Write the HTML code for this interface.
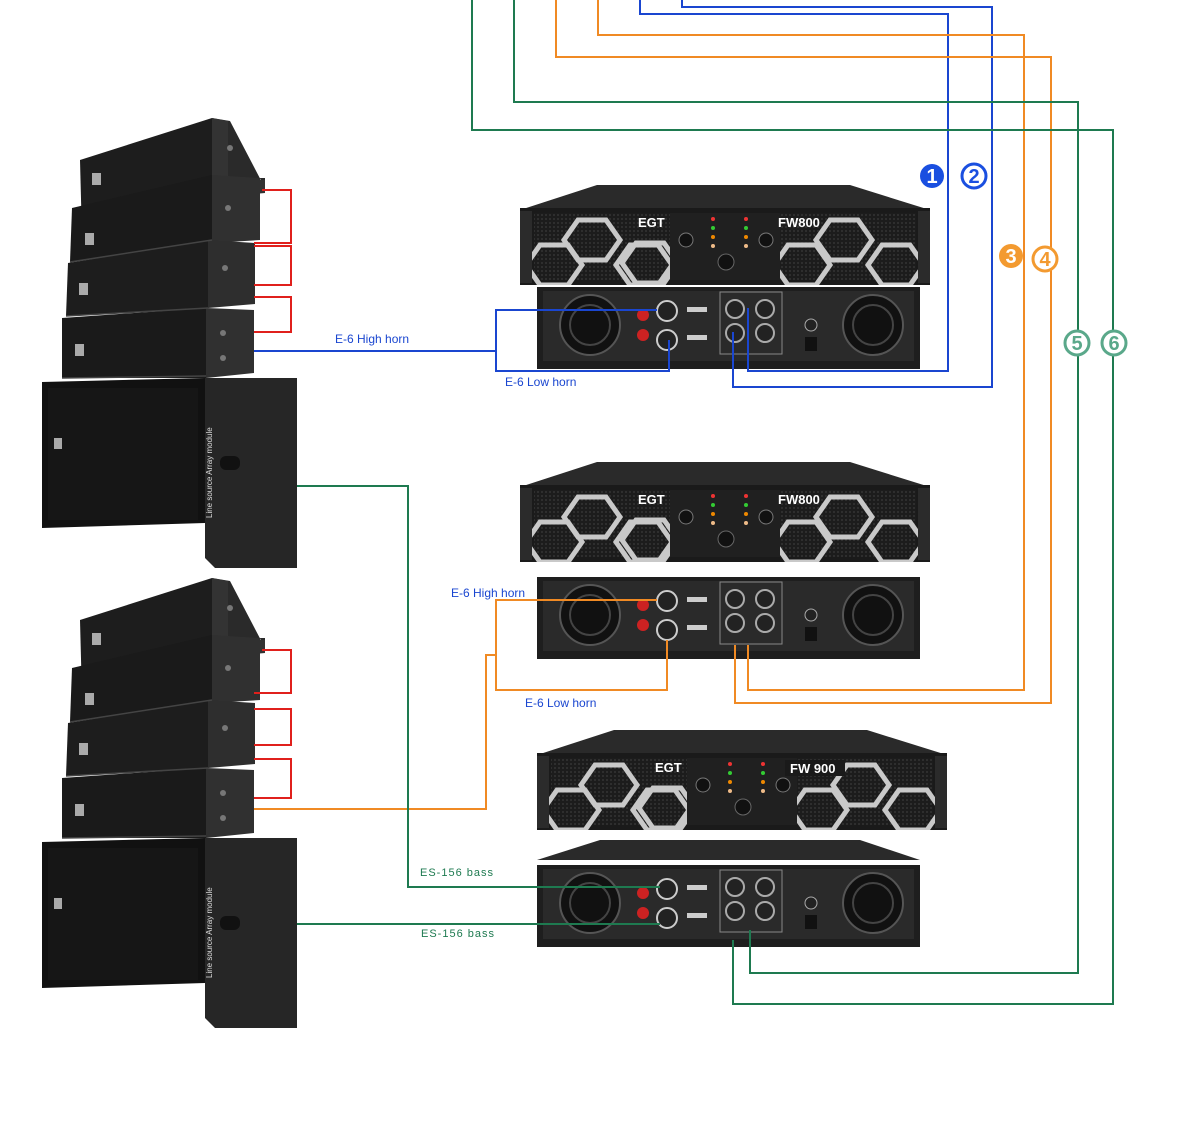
<!DOCTYPE html>
<html><head><meta charset="utf-8"><style>
html,body{margin:0;padding:0;background:#fff;}
svg{display:block;font-family:"Liberation Sans",sans-serif;}
</style></head><body>
<svg width="1200" height="1128" viewBox="0 0 1200 1128" xmlns="http://www.w3.org/2000/svg">
<defs>
<pattern id="mesh" width="4" height="4" patternUnits="userSpaceOnUse"><rect width="4" height="4" fill="#1c1c1c"/><circle cx="2" cy="2" r="0.9" fill="#3a3a3a"/></pattern>
<symbol id="front" viewBox="0 0 410 100" width="410" height="100">
  <polygon points="77,0 330,0 410,25 0,25" fill="#2a2a2a"/>
  <rect x="0" y="23" width="410" height="77" fill="#1a1a1a"/>
  <rect x="14" y="28" width="382" height="67" fill="url(#mesh)"/>
  <g fill="none" stroke="#c9c9c9" stroke-width="5">
    <polygon points="58,35 86,35 100,55 86,75 58,75 44,55"/>
    <polygon points="110,60 138,60 152,80 138,100 110,100 96,80"/>
    <polygon points="58,78 86,78 100,98 86,118 58,118 44,98" transform="translate(58,-20)"/>
    <polygon points="268,60 296,60 310,80 296,100 268,100 254,80"/>
    <polygon points="310,35 338,35 352,55 338,75 310,75 296,55"/>
    <polygon points="362,60 390,60 404,80 390,100 362,100 348,80"/>
    <polygon points="20,60 48,60 62,80 48,100 20,100 6,80"/>
  </g>
  <rect x="150" y="28" width="110" height="67" fill="#202020"/>
  <text x="118" y="42" fill="#fff" font-size="13" font-weight="bold">EGT</text>
  <text x="258" y="42" fill="#fff" font-size="13" font-weight="bold">FW800</text>
  <circle cx="166" cy="55" r="7" fill="#111" stroke="#777"/>
  <circle cx="246" cy="55" r="7" fill="#111" stroke="#777"/>
  <circle cx="193" cy="34" r="2" fill="#e33"/><circle cx="226" cy="34" r="2" fill="#e33"/>
  <circle cx="193" cy="43" r="2" fill="#3c3"/><circle cx="226" cy="43" r="2" fill="#3c3"/>
  <circle cx="193" cy="52" r="2" fill="#e80"/><circle cx="226" cy="52" r="2" fill="#e80"/>
  <circle cx="193" cy="61" r="2" fill="#eb8"/><circle cx="226" cy="61" r="2" fill="#eb8"/>
  <circle cx="206" cy="77" r="8" fill="#111" stroke="#666"/>
  <rect x="0" y="26" width="12" height="72" fill="#2b2b2b"/><rect x="398" y="26" width="12" height="72" fill="#2b2b2b"/>
</symbol>
<symbol id="back" viewBox="0 0 383 82" width="383" height="82">
  <rect x="0" y="0" width="383" height="82" fill="#1e1e1e"/>
  <rect x="6" y="4" width="371" height="70" fill="#2a2a2a"/>
  <circle cx="53" cy="38" r="30" fill="#111" stroke="#555" stroke-width="2"/>
  <circle cx="53" cy="38" r="20" fill="none" stroke="#444" stroke-width="2"/>
  <circle cx="336" cy="38" r="30" fill="#111" stroke="#555" stroke-width="2"/>
  <circle cx="336" cy="38" r="20" fill="none" stroke="#444" stroke-width="2"/>
  <circle cx="106" cy="28" r="6" fill="#c22"/><circle cx="106" cy="48" r="6" fill="#c22"/>
  <circle cx="130" cy="24" r="10" fill="#222" stroke="#ccc" stroke-width="2"/>
  <circle cx="130" cy="53" r="10" fill="#222" stroke="#ccc" stroke-width="2"/>
  <rect x="183" y="5" width="62" height="62" fill="none" stroke="#888"/>
  <circle cx="198" cy="22" r="9" fill="#222" stroke="#aaa" stroke-width="2"/>
  <circle cx="198" cy="46" r="9" fill="#222" stroke="#aaa" stroke-width="2"/>
  <circle cx="228" cy="22" r="9" fill="#222" stroke="#aaa" stroke-width="2"/>
  <circle cx="228" cy="46" r="9" fill="#222" stroke="#aaa" stroke-width="2"/>
  <circle cx="274" cy="38" r="6" fill="#222" stroke="#aaa"/>
  <rect x="268" y="50" width="12" height="14" fill="#111"/>
  <rect x="150" y="20" width="20" height="5" fill="#ccc"/><rect x="150" y="48" width="20" height="5" fill="#ccc"/>
</symbol>
<symbol id="arr" viewBox="0 0 260 450" width="260" height="450">
  <!-- box1 -->
  <polygon points="40,42 172,0 178,120 42,120" fill="#1d1d1d"/>
  <polygon points="172,0 190,3 225,70 225,60 175,60" fill="#2a2a2a"/>
  <polygon points="172,0 188,3 188,60 225,62 225,75 172,80" fill="#333"/>
  <!-- box2 -->
  <polygon points="32,90 172,57 172,122 30,144" fill="#1a1a1a"/>
  <polygon points="172,57 220,60 220,122 172,125" fill="#303030"/>
  <!-- box3 -->
  <polygon points="28,145 168,122 168,190 26,198" fill="#1d1d1d"/>
  <polygon points="168,122 215,125 215,186 168,190" fill="#2e2e2e"/>
  <!-- box4 -->
  <polygon points="22,200 166,190 166,260 22,260" fill="#1a1a1a"/>
  <polygon points="166,190 214,192 214,255 166,260" fill="#303030"/>
  <g stroke="#444" stroke-width="1.5" fill="none">
    <polyline points="30,144 172,122"/><polyline points="26,198 168,190"/><polyline points="22,260 166,258"/>
  </g>
  <g fill="#777"><circle cx="190" cy="30" r="3"/><circle cx="188" cy="90" r="3"/><circle cx="185" cy="150" r="3"/><circle cx="183" cy="215" r="3"/><circle cx="183" cy="240" r="3"/></g>
  <rect x="52" y="55" width="9" height="12" fill="#aaa"/><rect x="45" y="115" width="9" height="12" fill="#aaa"/>
  <rect x="39" y="165" width="9" height="12" fill="#aaa"/><rect x="35" y="226" width="9" height="12" fill="#aaa"/>
  <polygon points="2,264 165,260 165,405 2,410" fill="#111"/>
  <polygon points="165,260 257,260 257,450 175,450 165,440" fill="#262626"/>
  <rect x="8" y="270" width="150" height="132" fill="#161616"/>
  <rect x="14" y="320" width="8" height="11" fill="#aaa"/>
  <rect x="180" y="338" width="20" height="14" rx="6" fill="#111"/>
  <text transform="translate(172,400) rotate(-90)" fill="#ddd" font-size="8">Line source Array module</text>
</symbol>
</defs>

<use href="#arr" x="40" y="118"/>
<use href="#arr" x="40" y="578"/>

<use href="#front" x="520" y="185"/>
<use href="#back" x="537" y="287"/>
<use href="#front" x="520" y="462"/>
<use href="#back" x="537" y="577"/>
<use href="#front" x="537" y="730"/>
<polygon points="600,840 860,840 920,860 537,860" fill="#2a2a2a"/>
<use href="#back" x="537" y="865"/>
<rect x="785" y="760" width="60" height="16" fill="#1a1a1a"/>
<text x="790" y="773" fill="#fff" font-size="13" font-weight="bold">FW 900</text>

<g fill="none" stroke-width="2">
<g stroke="#e0201c">
<polyline points="262,190 291,190 291,243 254,243"/>
<polyline points="254,246 291,246 291,285 254,285"/>
<polyline points="254,297 291,297 291,332 254,332"/>
<polyline points="262,650 291,650 291,693 254,693"/>
<polyline points="254,709 291,709 291,745 254,745"/>
<polyline points="254,759 291,759 291,798 254,798"/>
</g>
<g stroke="#1a46d0">
<polyline points="254,351 496,351"/>
<polyline points="657,310 496,310 496,371 669,371 669,340"/>
<polyline points="748,308 748,371 948,371 948,14 640,14 640,0"/>
<polyline points="733,332 733,387 992,387 992,7 682,7 682,0"/>
</g>
<g stroke="#f08a24">
<polyline points="254,809 486,809 486,655 496,655"/>
<polyline points="657,600 496,600 496,690 667,690 667,640"/>
<polyline points="748,645 748,690 1024,690 1024,35 598,35 598,0"/>
<polyline points="735,645 735,703 1051,703 1051,57 556,57 556,0"/>
</g>
<g stroke="#1e7a50">
<polyline points="297,486 408,486 408,887 660,887"/>
<polyline points="297,924 660,924"/>
<polyline points="750,930 750,973 1078,973 1078,102 514,102 514,0"/>
<polyline points="733,940 733,1004 1113,1004 1113,130 472,130 472,0"/>
</g>
</g>

<g font-size="20" font-weight="bold" text-anchor="middle" fill="#fff">
<circle cx="932" cy="176" r="12" fill="#1a4fe0"/><text x="932" y="183">1</text>
<circle cx="974" cy="176" r="12" fill="#fff" stroke="#1a4fe0" stroke-width="3"/><text x="974" y="183" fill="#1a4fe0">2</text>
<circle cx="1011" cy="256" r="12" fill="#f39a30"/><text x="1011" y="263">3</text>
<circle cx="1045" cy="259" r="12" fill="#fff" stroke="#f39a30" stroke-width="3"/><text x="1045" y="266" fill="#f39a30">4</text>
<circle cx="1077" cy="343" r="12" fill="#fff" stroke="#5aa88a" stroke-width="3"/><text x="1077" y="350" fill="#5aa88a">5</text>
<circle cx="1114" cy="343" r="12" fill="#fff" stroke="#5aa88a" stroke-width="3"/><text x="1114" y="350" fill="#5aa88a">6</text>
</g>

<g font-size="12" fill="#1a46d0">
<text x="335" y="343">E-6 High horn</text>
<text x="505" y="386">E-6 Low horn</text>
<text x="451" y="597">E-6 High horn</text>
<text x="525" y="707">E-6 Low horn</text>
</g>
<g font-size="11" fill="#1e7a50" letter-spacing="1">
<text x="420" y="876">ES-156  bass</text>
<text x="421" y="937">ES-156  bass</text>
</g>
</svg>
</body></html>
